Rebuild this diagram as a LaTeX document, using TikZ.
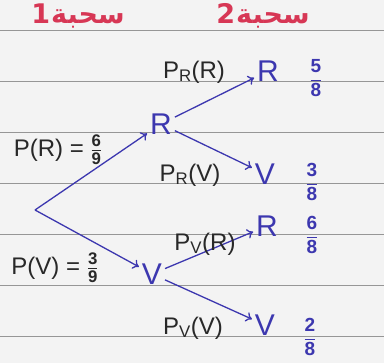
\documentclass[tikz,border=0pt]{standalone}
\usepackage{fontspec}
\setmainfont{Liberation Sans}
\newfontfamily\arabicfont[Script=Arabic]{DejaVu Sans}
\TeXXeTstate=1
\usepackage{amsmath}
\usepackage{xcolor}
\usepackage{tikz}
\usetikzlibrary{arrows.meta, positioning}
\definecolor{inkblue}{RGB}{60,55,175}
\definecolor{inkred}{RGB}{215,55,85}
\definecolor{inkgrey}{RGB}{40,40,40}
\definecolor{ruling}{RGB}{150,150,150}
\definecolor{paper}{RGB}{243,243,243}
\newcommand{\inkfrac}[2]{$\dfrac{\text{\bfseries #1}}{\text{\bfseries #2}}$}

\begin{document}
\begin{tikzpicture}[x=1pt,y=-1pt,inner sep=0pt,outer sep=3pt,
  ball/.style={text=inkblue,font=\fontsize{30}{30}\selectfont},
  prob/.style={text=inkblue,font=\fontsize{19}{19}\selectfont},
  cond/.style={text=inkgrey,font=\fontsize{24}{24}\selectfont},
  branch/.style={draw=inkblue,line width=1.3pt,-{To[length=6pt,width=10pt]}},
  title/.style={text=inkred,font=\arabicfont\bfseries\fontsize{27}{27}\selectfont}]
\fill[paper] (0,0) rectangle (384,363);
\useasboundingbox (0,0) rectangle (384,363);
\foreach \y in {31,82,133,184,235,286,337}
  \draw[ruling,line width=1pt] (0,\y) -- (384,\y);
% titles
\node[title] (draw1) at (78,16) {\beginR سحبة\kern1pt 1\endR};
\node[title] (draw2) at (263,16) {\beginR سحبة\kern1pt 2\endR};
% tree
\coordinate (root) at (35,210);
\node[ball] (R) at (161,124) {R};
\node[ball] (V) at (152,274) {V};
\node[ball] (RR) at (268,71) {R};
\node[ball] (RV) at (265,174) {V};
\node[ball] (VR) at (267,226) {R};
\node[ball] (VV) at (265,325) {V};
\node[prob] (pRR) at (316,78) {\inkfrac{5}{8}};
\node[prob] (pRV) at (312,182) {\inkfrac{3}{8}};
\node[prob] (pVR) at (312,235) {\inkfrac{6}{8}};
\node[prob] (pVV) at (310,337) {\inkfrac{2}{8}};
\draw[branch] (root) -- (R);
\draw[branch] (root) -- (V);
\draw[branch] (R) -- (RR);
\draw[branch] (R) -- (RV);
\draw[branch] (V) -- (VR);
\draw[branch] (V) -- (VV);
% probabilities on the branches
\node[cond] (lR) at (58,150) {P(R) = $\frac{\text{\bfseries 6}}{\text{\bfseries 9}}$};
\node[cond] (lV) at (55,268) {P(V) = $\frac{\text{\bfseries 3}}{\text{\bfseries 9}}$};
\node[cond] (lRR) at (194,72) {P$_{\text{R}}$(R)};
\node[cond] (lRV) at (190,175) {P$_{\text{R}}$(V)};
\node[cond] (lVR) at (205,244) {P$_{\text{V}}$(R)};
\node[cond] (lVV) at (193,328) {P$_{\text{V}}$(V)};
\end{tikzpicture}
\end{document}
